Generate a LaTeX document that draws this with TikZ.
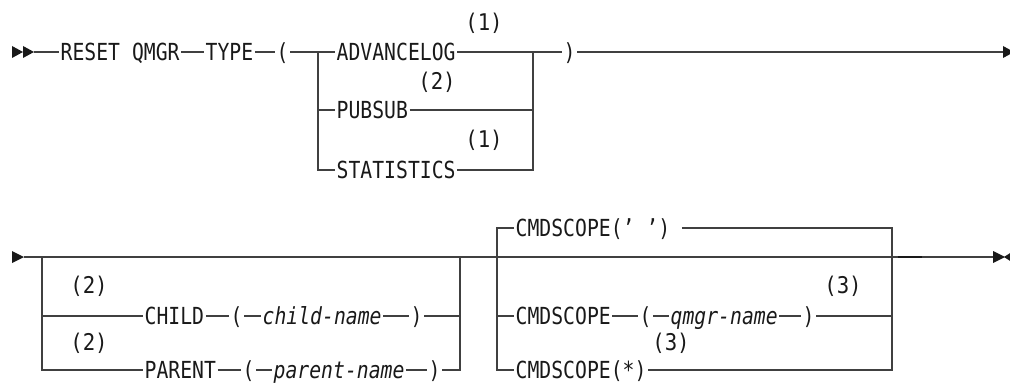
\documentclass[tikz,border=0pt]{standalone}
\usepackage{fontspec}
\newfontfamily\dfont[FakeStretch=0.84]{DejaVu Sans Mono}
\newfontfamily\nfont[FakeStretch=0.9]{DejaVu Sans Mono}
\tikzset{
  kw/.style={font=\dfont\fontsize{23.5}{23.5}\selectfont, inner xsep=1.5pt, inner ysep=0pt,
             text height=17pt, text depth=0pt, anchor=west, text=black!90},
  var/.style={kw, font=\dfont\itshape\fontsize{23.5}{23.5}\selectfont},
  note/.style={font=\nfont\fontsize{23}{23}\selectfont, inner sep=0pt, text=black!90, anchor=center},
  ln/.style={line width=1.1pt, draw=black!75},
  arr/.style={fill=black!90}
}
\begin{document}
\begin{tikzpicture}[x=1pt,y=-1pt]
\useasboundingbox (0,0) rectangle (1010,385);
% ---------- row 1 ----------
\fill[arr] (12,46) -- (23,52) -- (12,58) -- cycle;
\fill[arr] (23,46) -- (34,52) -- (23,58) -- cycle;
\coordinate (s1) at (34,52);
\node[kw] (reset) at (59,52) {RESET QMGR};
\node[kw] (type) at (204,52) {TYPE};
\node[kw] (lp1) at (275,52) {(};
\coordinate (b1l) at (318,52);
\node[kw] (adv) at (335,52) {ADVANCELOG};
\node[kw] (pub) at (335,110) {PUBSUB};
\node[kw] (sta) at (335,170) {STATISTICS};
\coordinate (b1r) at (533,52);
\node[kw] (rp1) at (562,52) {)};
\coordinate (e1) at (1003,52);
\fill[arr] (1003,46) -- (1014,52) -- (1003,58) -- cycle;

\draw[ln] (s1) -- (reset.west);
\draw[ln] (reset.east) -- (type.west);
\draw[ln] (type.east) -- (lp1.west);
\draw[ln] (lp1.east) -- (b1l) -- (adv.west);
\draw[ln] (b1l) |- (sta.west);
\draw[ln] (pub.west -| b1l) -- (pub.west);
\draw[ln] (adv.east) -- (b1r) -- (rp1.west);
\draw[ln] (sta.east) -| (b1r);
\draw[ln] (pub.east) -- (pub.east -| b1r);
\draw[ln] (rp1.east) -- (e1);

\node[note] (n1a) at (484,23) {(1)};
\node[note] (n2a) at (437,82) {(2)};
\node[note] (n1b) at (484,140) {(1)};

% ---------- row 2 ----------
\fill[arr] (12,251) -- (24,257) -- (12,263) -- cycle;
\coordinate (s2) at (24,257);
\coordinate (b2l) at (42,257);
\coordinate (b2r) at (460,257);
\node[kw] (child) at (143,316) {CHILD};
\node[kw] (lp2) at (229,316) {(};
\node[var] (cn) at (261,316) {child-name};
\node[kw] (rp2) at (409,316) {)};
\node[kw] (parent) at (143,370) {PARENT};
\node[kw] (lp3) at (241,370) {(};
\node[var] (pn) at (272,370) {parent-name};
\node[kw] (rp3) at (427,370) {)};

\coordinate (b3l) at (497,257);
\coordinate (b3r) at (892,257);
\node[kw] (cs1) at (514,228) {CMDSCOPE(’ ’)};
\node[kw] (cs2) at (514,316) {CMDSCOPE};
\node[kw] (lp4) at (638,316) {(};
\node[var] (qn) at (669,316) {qmgr-name};
\node[kw] (rp4) at (801,316) {)};
\node[kw] (cs3) at (514,370) {CMDSCOPE(*)};
\coordinate (t1) at ([xshift=10pt]cs1.east);
\coordinate (e2) at (993,257);

\draw[ln] (s2) -- (e2);
\draw[ln] (b2l) |- (parent.west);
\draw[ln] (child.west -| b2l) -- (child.west);
\draw[ln] (child.east) -- (lp2.west);
\draw[ln] (lp2.east) -- (cn.west);
\draw[ln] (cn.east) -- (rp2.west);
\draw[ln] (rp2.east) -- (rp2.east -| b2r);
\draw[ln] (parent.east) -- (lp3.west);
\draw[ln] (lp3.east) -- (pn.west);
\draw[ln] (pn.east) -- (rp3.west);
\draw[ln] (rp3.east) -| (b2r);

\draw[ln] (cs1.west) -| (b3l) |- (cs3.west);
\draw[ln] (cs2.west -| b3l) -- (cs2.west);
\draw[ln] (t1) -| (b3r |- cs3.east) -- (cs3.east);
\draw[ln] (cs2.east) -- (lp4.west);
\draw[ln] (lp4.east) -- (qn.west);
\draw[ln] (qn.east) -- (rp4.west);
\draw[ln] (rp4.east) -- (rp4.east -| b3r);
\draw[line width=2.4pt, black!90] (898,257) -- (922,257);
\fill[arr] (993,251) -- (1005,257) -- (993,263) -- cycle;
\fill[arr] (1011,252.5) -- (1004,257) -- (1011,261.5) -- cycle;

\node[note] (n2b) at (89,286) {(2)};
\node[note] (n2c) at (89,343) {(2)};
\node[note] (n3a) at (843,286) {(3)};
\node[note] (n3b) at (671,343) {(3)};
\end{tikzpicture}
\end{document}
